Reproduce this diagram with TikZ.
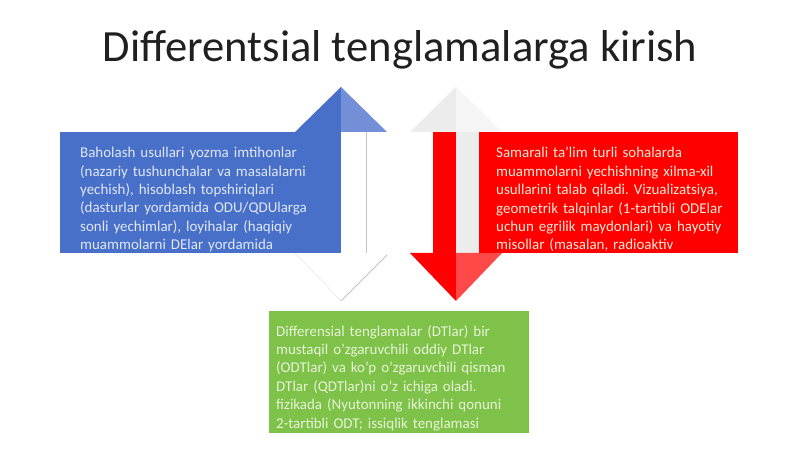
\documentclass[tikz,border=0pt]{standalone}
\usepackage{fontspec}
\setmainfont{Carlito}
\usetikzlibrary{positioning}
\frenchspacing
\definecolor{titlegray}{RGB}{32, 32, 32}
\definecolor{assessblue}{RGB}{72, 112, 200}
\definecolor{assessbluelight}{RGB}{115, 143, 215}
\definecolor{methodred}{RGB}{255, 0, 0}
\definecolor{methodredlight}{RGB}{255, 72, 72}
\definecolor{introgreen}{RGB}{126, 194, 74}
\definecolor{headgray}{RGB}{236, 236, 236}
\definecolor{headgraylight}{RGB}{245, 245, 245}
\definecolor{edgegray}{RGB}{195, 195, 195}
\definecolor{bluetext}{RGB}{224, 231, 248}
\definecolor{redtext}{RGB}{255, 232, 212}
\definecolor{greentext}{RGB}{232, 244, 214}

\begin{document}
\begin{tikzpicture}[x=1bp, y=-1bp,
        panel/.style={rectangle, inner sep=0pt, anchor=north west},
        bodytext/.style={inner sep=0pt, anchor=north west, align=left, text width=#1,
            font=\fontsize{15}{18.5}\selectfont},
        bodytext/.default=250bp
    ]
        \fill[white] (0,0) rectangle (800,449);
        \useasboundingbox (0,0) rectangle (800,449);

        \node[anchor=base, text=titlegray, inner sep=0pt, font=\fontsize{44.8}{50}\selectfont] (title) at (400,62) {Differentsial tenglamalarga kirish};

        % blue up arrow (left)
        \fill[assessblue] (341,87) -- (295,132) -- (341,132) -- cycle;
        \fill[assessbluelight] (341,87) -- (387,132) -- (341,132) -- cycle;
        \fill[assessblue] (316,132) rectangle (341,253);
        \draw[edgegray, thick] (366,132) -- (366,253);
        \fill[white] (295,253) -- (341,301) -- (387,253) -- cycle;
        \draw[edgegray!50] (295,253) -- (341,301);
        \draw[edgegray, thick] (341,301) -- (387,255);

        % red down arrow (right)
        \fill[headgray] (456,87) -- (410,132) -- (456,132) -- cycle;
        \fill[headgraylight] (456,87) -- (502,132) -- (456,132) -- cycle;
        \fill[methodred] (433,132) rectangle (456,253);
        \fill[headgray] (456,132) rectangle (479,253);
        \fill[methodred] (410,253) -- (456,301) -- (456,253) -- cycle;
        \fill[methodredlight] (502,253) -- (456,301) -- (456,253) -- cycle;

        \node[panel, fill=assessblue, minimum width=280bp, minimum height=121bp] (assess) at (60,132) {};
        \node[panel, fill=methodred, minimum width=259bp, minimum height=121bp] (method) at (479,132) {};
        \node[panel, fill=introgreen, minimum width=260bp, minimum height=122bp] (intro) at (269,311) {};

        \node[bodytext, text=bluetext] (assesstext) at ([xshift=20bp, yshift=-15bp]assess.north west) {Baholash usullari yozma imtihonlar\\(nazariy tushunchalar va masalalarni\\yechish), hisoblash topshiriqlari\\(dasturlar yordamida ODU/QDUlarga\\sonli yechimlar), loyihalar (haqiqiy\\muammolarni DElar yordamida};
        \node[bodytext, text=redtext] (methodtext) at ([xshift=17bp, yshift=-15bp]method.north west) {Samarali ta'lim turli sohalarda\\muammolarni yechishning xilma-xil\\usullarini talab qiladi. Vizualizatsiya,\\geometrik talqinlar (1-tartibli ODElar\\uchun egrilik maydonlari) va hayotiy\\misollar (masalan, radioaktiv};
        \node[bodytext, text=greentext] (introtext) at ([xshift=7bp, yshift=-14bp]intro.north west) {Differensial tenglamalar (DTlar) bir\\mustaqil o'zgaruvchili oddiy DTlar\\(ODTlar) va ko'p o'zgaruvchili qisman\\DTlar (QDTlar)ni o'z ichiga oladi.\\fizikada (Nyutonning ikkinchi qonuni\\2-tartibli ODT; issiqlik tenglamasi};
    \end{tikzpicture}
\end{document}
